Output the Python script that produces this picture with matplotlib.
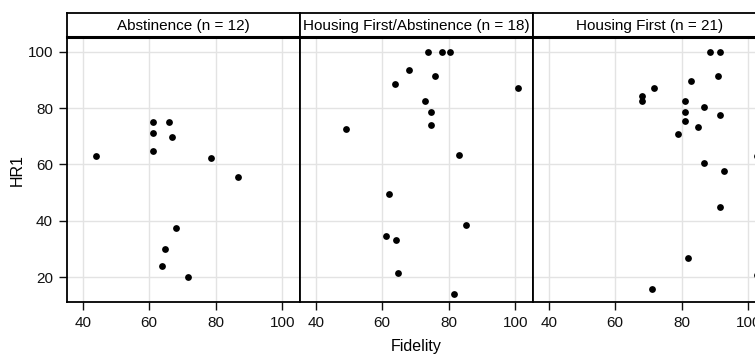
import matplotlib
matplotlib.use("Agg")
import matplotlib.pyplot as plt

plt.rcParams['font.family'] = ['Liberation Sans', 'DejaVu Sans']

# data
titles = ["Abstinence (n = 12)", "Housing First/Abstinence (n = 18)", "Housing First (n = 21)"]

fid_abst = [44.1, 61.1, 61.1, 61.1, 66.0, 66.8, 78.6, 86.6, 68.1, 64.7, 63.9, 71.8]
hr_abst = [62.9, 75.1, 71.1, 64.8, 75.1, 69.8, 62.4, 55.7, 37.5, 30.1, 23.8, 20.0]

fid_hfa = [73.9, 78.0, 80.3, 68.1, 75.8, 63.9, 100.7, 72.9, 74.7, 74.7, 49.0, 83.0,
           61.9, 85.1, 61.1, 64.0, 64.8, 81.7]
hr_hfa = [100, 100, 100, 93.6, 91.5, 88.7, 87.2, 82.4, 78.5, 74.0, 72.7, 63.5,
          49.6, 38.5, 34.6, 33.1, 21.4, 14.2]

fid_hf = [88.6, 91.6, 90.8, 82.9, 71.8, 68.1, 68.1, 80.9, 86.6, 80.9, 91.6, 80.9,
          85.0, 78.9, 86.6, 92.8, 91.4, 81.8, 71.0, 102.6, 102.6]
hr_hf = [100, 100, 91.5, 89.7, 87.2, 84.4, 82.4, 82.4, 80.4, 78.5, 77.4, 75.5,
         73.2, 70.7, 60.5, 57.6, 44.8, 26.8, 15.7, 63.1, 20.8]

xs = [fid_abst, fid_hfa, fid_hf]
ys = [hr_abst, hr_hfa, hr_hf]

x_ticks = [40, 60, 80, 100]
y_ticks = [20, 40, 60, 80, 100]

W, H = 755, 355
fig = plt.figure(figsize=(W / 100, H / 100), dpi=100)

lefts = [67, 300, 533]
pw = 233
head_top, plot_top, plot_bot = 13, 37, 302

for i in range(3):
    ax = fig.add_axes([lefts[i] / W, 1 - plot_bot / H, pw / W, (plot_bot - plot_top) / H])
    ax.scatter(xs[i], ys[i], s=24, c='black', zorder=3, linewidths=0)
    ax.set_xlim(35.3, 105.3)
    ax.set_ylim(11.2, 105.2)
    ax.set_xticks(x_ticks)
    ax.set_yticks(y_ticks)
    ax.grid(color='#e3e3e3', lw=1.0)
    ax.set_axisbelow(True)
    ax.tick_params(length=6, width=1, labelsize=11, pad=4, colors='#111111')
    if i > 0:
        ax.tick_params(axis='y', left=False, labelleft=False)
    for s in ax.spines.values():
        s.set_linewidth(1.3)
        s.set_color('black')

    hd = fig.add_axes([lefts[i] / W, 1 - plot_top / H, pw / W, (plot_top - head_top) / H])
    hd.set_xticks([])
    hd.set_yticks([])
    for s in hd.spines.values():
        s.set_linewidth(1.3)
    hd.spines['bottom'].set_linewidth(2.2)
    hd.text(0.5, 0.45, titles[i], ha='center', va='center', fontsize=11, transform=hd.transAxes)

fig.text(17 / W, 1 - 170 / H, "HR1", rotation=90, ha='center', va='center', fontsize=11.5)
fig.text(416 / W, 1 - 347 / H, "Fidelity", ha='center', va='center', fontsize=11.5)

fig.savefig("out.png", dpi=100)
